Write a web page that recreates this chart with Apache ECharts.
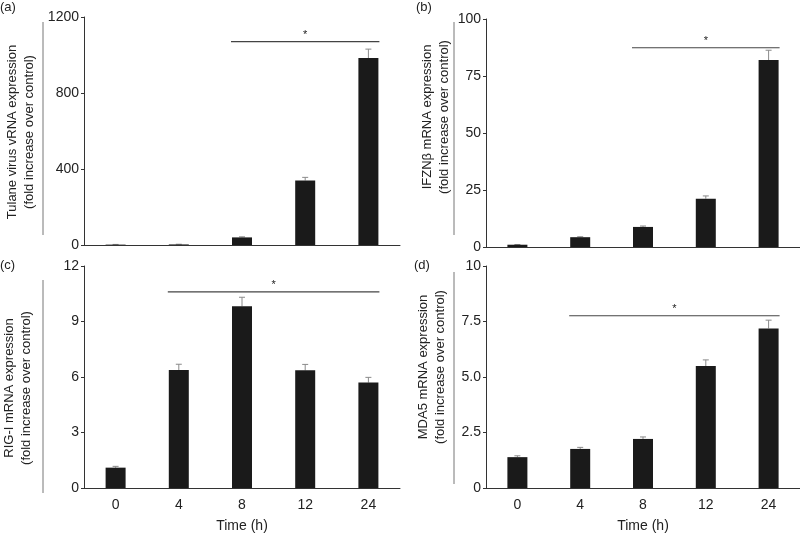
<!DOCTYPE html>
<html><head><meta charset="utf-8">
<script src="https://cdn.jsdelivr.net/npm/echarts@6/dist/echarts.min.js"></script>
<style>html,body{margin:0;padding:0;background:#fff}#c{width:800px;height:534px}</style>
</head><body><div id="c"></div>
<script>
const categories = ['0', '4', '8', '12', '24'];
const tulane = [2, 3, 40, 340, 984];
const tulaneSD = [1, 1, 3, 16, 47];
const ifnb = [1.0, 4.3, 8.8, 21.2, 82.0];
const ifnbSD = [0.1, 0.2, 0.4, 1.2, 4.3];
const rigi = [1.1, 6.38, 9.82, 6.36, 5.7];
const rigiSD = [0.07, 0.31, 0.49, 0.32, 0.28];
const mda5 = [1.39, 1.76, 2.21, 5.49, 7.19];
const mda5SD = [0.06, 0.07, 0.09, 0.28, 0.37];
const yMax = [1200, 100, 12, 10];
const yInterval = [400, 25, 3, 2.5];
const yTickLabels = [
  ['0', '400', '800', '1200'],
  ['0', '25', '50', '75', '100'],
  ['0', '3', '6', '9', '12'],
  ['0', '2.5', '5.0', '7.5', '10']
];
// significance bars: [from category, to category, level]
const sigFrom = ['8', '8', '4', '4'];
const sigTo = ['24', '24', '24', '24'];
const sigLevel = [1070, 87.4, 10.6, 7.76];
const yTitles = [
  'Tulane virus vRNA expression\n(fold increase over control)',
  'IFZN\u03B2 mRNA expression\n(fold increase over control)',
  'RIG-I mRNA expression\n(fold increase over control)',
  'MDA5 mRNA expression\n(fold increase over control)'
];
const panelLabels = ['(a)', '(b)', '(c)', '(d)'];
const xTitle = 'Time (h)';

const FONT = '"Liberation Sans", Arial, Helvetica, sans-serif';
const values = [tulane, ifnb, rigi, mda5];
const sds = [tulaneSD, ifnbSD, rigiSD, mda5SD];

const grids = [
  {left: 84, top: 17, width: 316, height: 228},
  {left: 486, top: 19, width: 314, height: 228},
  {left: 84, top: 266, width: 316, height: 227},
  {left: 486, top: 266, width: 314, height: 227}
];

const xAxes = [], yAxes = [], series = [];
for (let i = 0; i < 4; i++) {
  const bottom = i >= 2;
  xAxes.push({
    type: 'category', gridIndex: i, data: categories,
    axisLine: {lineStyle: {color: '#333', width: 1}},
    axisTick: {show: false},
    axisLabel: {show: bottom, fontSize: 14, color: '#222', fontFamily: FONT, margin: 10},
    name: bottom ? xTitle : '', nameLocation: 'middle', nameGap: 31,
    nameTextStyle: {fontSize: 14, color: '#222', fontFamily: FONT}
  });
  const labs = yTickLabels[i];
  const iv = yInterval[i];
  yAxes.push({
    type: 'value', gridIndex: i, min: 0, max: yMax[i], interval: iv,
    axisLine: {show: true, lineStyle: {color: '#333', width: 1}},
    axisTick: {show: true, length: 3, lineStyle: {color: '#333'}},
    splitLine: {show: false},
    axisLabel: {fontSize: 14, color: '#222', fontFamily: FONT, margin: 5,
      formatter: v => labs[Math.round(v / iv)]}
  });
  series.push({
    type: 'bar', xAxisIndex: i, yAxisIndex: i, data: values[i], barWidth: 20,
    itemStyle: {color: '#1a1a1a'}, silent: true, z: 3
  });
  series.push({
    type: 'custom', xAxisIndex: i, yAxisIndex: i, z: 2,
    data: values[i].map((v, k) => [k, v, v + sds[i][k]]),
    renderItem: (params, api) => {
      const base = api.coord([api.value(0), api.value(1)]);
      const top = api.coord([api.value(0), api.value(2)]);
      return {type: 'group', children: [
        {type: 'line', shape: {x1: base[0], y1: base[1], x2: top[0], y2: top[1]}, style: {stroke: '#8a8a8a', lineWidth: 1}},
        {type: 'line', shape: {x1: top[0] - 3, y1: top[1], x2: top[0] + 3, y2: top[1]}, style: {stroke: '#8a8a8a', lineWidth: 1}}
      ]};
    }
  });
  series.push({
    type: 'custom', xAxisIndex: i, yAxisIndex: i, z: 4, clip: false,
    data: [[categories.indexOf(sigFrom[i]), categories.indexOf(sigTo[i]), sigLevel[i]]],
    renderItem: (params, api) => {
      const p1 = api.coord([api.value(0), api.value(2)]);
      const p2 = api.coord([api.value(1), api.value(2)]);
      const x1 = p1[0] - 11, x2 = p2[0] + 11;
      return {type: 'group', children: [
        {type: 'line', shape: {x1: x1, y1: p1[1], x2: x2, y2: p1[1]}, style: {stroke: '#444', lineWidth: 1.2}},
        {type: 'text', x: (x1 + x2) / 2, y: p1[1] - 7, style: {text: '*', fill: '#222', font: '11px ' + FONT, align: 'center', verticalAlign: 'middle'}}
      ]};
    }
  });
}

const titlePos = [[21, 132], [436, 117], [18, 388], [432, 367]];
const sideLines = [[43, 22, 235], [454, 22, 235], [43, 280, 493], [454, 272, 484]];
const labelPos = [[0, 1], [416, 1], [0, 259], [414, 259]];
const graphic = [];
for (let i = 0; i < 4; i++) {
  graphic.push({type: 'text', x: titlePos[i][0], y: titlePos[i][1], rotation: Math.PI / 2,
    style: {text: yTitles[i], fill: '#222', font: '13px ' + FONT, align: 'center', verticalAlign: 'middle', lineHeight: 17}});
  graphic.push({type: 'line', shape: {x1: sideLines[i][0], y1: sideLines[i][1], x2: sideLines[i][0], y2: sideLines[i][2]},
    style: {stroke: '#777', lineWidth: 1}});
  graphic.push({type: 'text', x: labelPos[i][0], y: labelPos[i][1],
    style: {text: panelLabels[i], fill: '#222', font: '13px ' + FONT}});
}

const chart = echarts.init(document.getElementById('c'), null, {renderer: 'canvas'});
chart.setOption({
  animation: false,
  grid: grids, xAxis: xAxes, yAxis: yAxes, series: series, graphic: graphic
});
</script></body></html>
